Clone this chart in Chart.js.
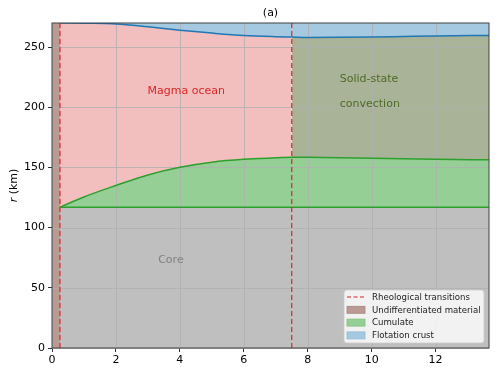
<!DOCTYPE html>
<html>
<head>
<meta charset="utf-8">
<script src="https://cdn.jsdelivr.net/npm/chart.js@4"></script>
<style>
  html, body { margin: 0; padding: 0; background: #fff; }
</style>
</head>
<body>
<canvas id="evolutionChart" width="498" height="374"></canvas>
<script>
// time (Myr) and radii (km)
const timeMyr = [0.25, 1, 2, 3, 4, 5, 6, 7, 7.5, 8, 9, 10, 11, 12, 13.67];
const cumulateTop = [117, 125.5, 135, 143.8, 150.2, 154.4, 156.8, 158, 158.5, 158.4, 158.1, 157.7, 157.2, 156.8, 156.3];
const crustBase = [270, 269.8, 269.2, 266.8, 264, 261.6, 259.6, 258.6, 258.3, 258, 258.1, 258.4, 258.8, 259.2, 259.7];
const coreRadius = 117;
const bodyRadius = 270;
const transitionTimes = [0.25, 7.5];
const xTicks = [0, 2, 4, 6, 8, 10, 12];
const yTicks = [0, 50, 100, 150, 200, 250];
const xMax = 13.67;
const legendLabels = ["Rheological transitions", "Undifferentiated material", "Cumulate", "Flotation crust"];
const regionLabels = ["Magma ocean", "Solid-state", "convection", "Core"];

const FONT = "DejaVu Sans";
const toPoints = (xs, ys) => xs.map((x, i) => ({ x: x, y: ys[i] }));

const splitIdx = timeMyr.indexOf(transitionTimes[1]);
const cumulatePts = toPoints(timeMyr, cumulateTop);
const crustPts = toPoints(timeMyr, crustBase);
const t0 = transitionTimes[0];
const tEnd = timeMyr[timeMyr.length - 1];

const transitionPts = [];
transitionTimes.forEach((t, i) => {
    if (i > 0) transitionPts.push({ x: (transitionTimes[i - 1] + t) / 2, y: null });
    transitionPts.push({ x: t, y: 0 }, { x: t, y: bodyRadius });
});

const overlay = {
    id: "overlay",
    beforeDatasetsDraw(chart) {
        // grid sits on top of the filled regions, under the curves
        const { ctx, chartArea: a, scales } = chart;
        ctx.save();
        ctx.strokeStyle = "#b0b0b0";
        ctx.lineWidth = 0.8;
        ctx.beginPath();
        xTicks.forEach((v) => {
            const px = Math.round(scales.x.getPixelForValue(v)) + 0.5;
            ctx.moveTo(px, a.top);
            ctx.lineTo(px, a.bottom);
        });
        yTicks.forEach((v) => {
            const py = Math.round(scales.y.getPixelForValue(v)) + 0.5;
            ctx.moveTo(a.left, py);
            ctx.lineTo(a.right, py);
        });
        ctx.stroke();
        ctx.restore();
    },
    afterDatasetsDraw(chart) {
        const { ctx, chartArea: a, scales } = chart;
        const px = (v) => scales.x.getPixelForValue(v);
        const py = (v) => scales.y.getPixelForValue(v);
        ctx.save();

        // region names
        ctx.font = "11px '" + FONT + "'";
        ctx.textBaseline = "middle";
        ctx.textAlign = "center";
        ctx.fillStyle = "#d62728";
        ctx.fillText(regionLabels[0], px(4.2), py(213));
        ctx.textAlign = "left";
        ctx.fillStyle = "#4f6a26";
        ctx.fillText(regionLabels[1], px(9.0), py(223));
        ctx.fillText(regionLabels[2], px(9.0), py(203));
        ctx.textAlign = "center";
        ctx.fillStyle = "#808080";
        ctx.fillText(regionLabels[3], px(3.72), py(73));

        // frame
        ctx.strokeStyle = "#404040";
        ctx.lineWidth = 1;
        ctx.strokeRect(a.left, a.top, a.right - a.left, a.bottom - a.top);

        // legend
        const bw = 140, bh = 53;
        const bx = a.right - bw - 5, by = a.bottom - bh - 5;
        ctx.beginPath();
        ctx.roundRect(bx, by, bw, bh, 3);
        ctx.fillStyle = "rgba(255,255,255,0.8)";
        ctx.fill();
        ctx.strokeStyle = "rgba(204,204,204,0.8)";
        ctx.stroke();

        const swatches = ["#ba9a93", "#95cf95", "#a5c9e1"];
        const edges = ["#a98780", "#7fbf7f", "#8fb8d6"];
        ctx.font = "8.6px '" + FONT + "'";
        ctx.textAlign = "left";
        ctx.textBaseline = "middle";
        legendLabels.forEach((label, i) => {
            const ry = by + 7 + i * 12.8;
            const hx = bx + 3;
            if (i === 0) {
                ctx.strokeStyle = "#d62728";
                ctx.lineWidth = 1.2;
                ctx.setLineDash([4, 2.5]);
                ctx.beginPath();
                ctx.moveTo(hx, ry);
                ctx.lineTo(hx + 18, ry);
                ctx.stroke();
                ctx.setLineDash([]);
            } else {
                ctx.fillStyle = swatches[i - 1];
                ctx.fillRect(hx, ry - 3.5, 18, 7);
                ctx.strokeStyle = edges[i - 1];
                ctx.lineWidth = 0.8;
                ctx.strokeRect(hx, ry - 3.5, 18, 7);
            }
            ctx.fillStyle = "#222";
            ctx.fillText(label, hx + 25, ry + 0.5);
        });
        ctx.restore();
    },
    afterDraw(chart) {
        const { ctx, chartArea: a } = chart;
        ctx.save();
        ctx.fillStyle = "#000";
        ctx.textBaseline = "middle";
        ctx.textAlign = "center";
        ctx.font = "11px '" + FONT + "'";
        ctx.fillText("(a)", (a.left + a.right) / 2, 13);

        // y label with italic r
        ctx.translate(14.5, (a.top + a.bottom) / 2);
        ctx.rotate(-Math.PI / 2);
        ctx.textAlign = "left";
        const italic = "italic 11px '" + FONT + "'";
        const normal = "11px '" + FONT + "'";
        ctx.font = italic;
        const w1 = ctx.measureText("r").width;
        ctx.font = normal;
        const w2 = ctx.measureText(" (km)").width;
        const x0 = -(w1 + w2) / 2;
        ctx.font = italic;
        ctx.fillText("r", x0, 0);
        ctx.font = normal;
        ctx.fillText(" (km)", x0 + w1, 0);
        ctx.restore();
    },
};

const lineBase = { pointRadius: 0, tension: 0, cubicInterpolationMode: "monotone" };

new Chart(document.getElementById("evolutionChart"), {
    type: "line",
    data: {
        datasets: [
            {
                ...lineBase, label: "core", order: 3,
                data: [{ x: t0, y: coreRadius }, { x: tEnd, y: coreRadius }],
                borderColor: "#2ca02c", borderWidth: 1.5,
                backgroundColor: "#bfbfbf", fill: "origin",
            },
            {
                ...lineBase, label: "Cumulate", order: 2,
                data: cumulatePts,
                borderColor: "#2ca02c", borderWidth: 1.5,
                backgroundColor: "#95cf95", fill: 0,
            },
            {
                ...lineBase, label: "magma ocean", order: 5,
                data: crustPts.slice(0, splitIdx + 1),
                borderWidth: 0, borderColor: "rgba(0,0,0,0)",
                backgroundColor: "#f3bebe", fill: 1,
            },
            {
                ...lineBase, label: "convection", order: 5,
                data: crustPts.slice(splitIdx),
                borderWidth: 0, borderColor: "rgba(0,0,0,0)",
                backgroundColor: "#a9b398", fill: 1,
            },
            {
                ...lineBase, label: "Flotation crust", order: 1,
                data: crustPts,
                borderColor: "#1f77b4", borderWidth: 1.5,
                backgroundColor: "#a5c9e1", fill: "end",
            },
            {
                ...lineBase, label: "Undifferentiated material", order: 4,
                data: [{ x: 0, y: bodyRadius }, { x: t0, y: bodyRadius }],
                borderWidth: 0, borderColor: "rgba(0,0,0,0)",
                backgroundColor: "#ba9a93", fill: "origin",
            },
            {
                label: "Rheological transitions", order: 0,
                data: transitionPts, pointRadius: 0, spanGaps: false,
                borderColor: "#d62728", borderWidth: 1.2, borderDash: [5, 3],
                fill: false,
            },
        ],
    },
    options: {
        responsive: false,
        animation: false,
        layout: { padding: { top: 23, right: 9, left: 0, bottom: 0 } },
        plugins: {
            legend: { display: false },
            tooltip: { enabled: false },
            filler: { drawTime: "beforeDatasetsDraw" },
        },
        scales: {
            x: {
                type: "linear", min: 0, max: xMax,
                afterBuildTicks: (s) => { s.ticks = xTicks.map((v) => ({ value: v })); },
                afterFit: (s) => { s.height = 26; },
                grid: { drawOnChartArea: false, tickLength: 4, tickColor: "#000", tickWidth: 0.8 },
                border: { display: false },
                ticks: { color: "#000", padding: 2, maxRotation: 0, font: { family: FONT, size: 11 } },
            },
            y: {
                type: "linear", min: 0, max: bodyRadius,
                afterBuildTicks: (s) => { s.ticks = yTicks.map((v) => ({ value: v })); },
                afterFit: (s) => { s.width = 52; },
                grid: { drawOnChartArea: false, tickLength: 4, tickColor: "#000", tickWidth: 0.8 },
                border: { display: false },
                ticks: { color: "#000", padding: 3, font: { family: FONT, size: 11 } },
            },
        },
    },
    plugins: [overlay],
});
</script>
</body>
</html>
